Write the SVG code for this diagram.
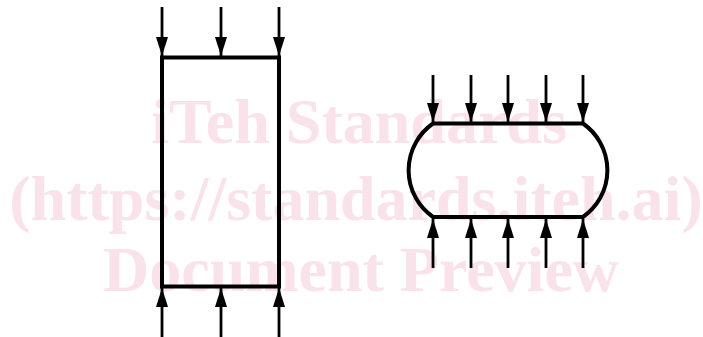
<svg xmlns="http://www.w3.org/2000/svg" width="703" height="337" viewBox="0 0 703 337">
<style>
.wm{font-family:"Liberation Serif",serif;font-weight:bold;font-size:64px;fill:#f9e2e9;text-anchor:middle}
.shape{fill:none;stroke:#000;stroke-width:4}
.arr{stroke:#000;stroke-width:2.8;fill:none}
</style>
<defs>
<marker id="head" viewBox="0 0 19 12" refX="19" refY="6" markerWidth="19" markerHeight="12" markerUnits="userSpaceOnUse" orient="auto">
<path d="M0,0 L19,6 L0,12 Z" fill="#000"/>
</marker>
</defs>
<rect width="703" height="337" fill="#fff"/>
<g id="watermark">
<text class="wm" x="359" y="143">iTeh Standards</text>
<text class="wm" x="356" y="220">(https://standards.iteh.ai)</text>
<text class="wm" x="361" y="291">Document Preview</text>
</g>
<g id="column">
<rect class="shape" x="162" y="57.5" width="117" height="229"/>
</g>
<g id="barrel">
<path class="shape" d="M433,123.5 L583,123.5 A57,57 0 0 1 583,217 L433,217 A57,57 0 0 1 433,123.5 Z"/>
</g>
<g id="connectors">
<line class="arr" x1="162" y1="7" x2="162" y2="56" marker-end="url(#head)"/>
<line class="arr" x1="221" y1="7" x2="221" y2="56" marker-end="url(#head)"/>
<line class="arr" x1="279" y1="7" x2="279" y2="56" marker-end="url(#head)"/>
<line class="arr" x1="162" y1="337" x2="162" y2="288" marker-end="url(#head)"/>
<line class="arr" x1="221" y1="337" x2="221" y2="288" marker-end="url(#head)"/>
<line class="arr" x1="279" y1="337" x2="279" y2="288" marker-end="url(#head)"/>
<line class="arr" x1="433" y1="75" x2="433" y2="122" marker-end="url(#head)"/>
<line class="arr" x1="471" y1="75" x2="471" y2="122" marker-end="url(#head)"/>
<line class="arr" x1="508" y1="75" x2="508" y2="122" marker-end="url(#head)"/>
<line class="arr" x1="546" y1="75" x2="546" y2="122" marker-end="url(#head)"/>
<line class="arr" x1="583" y1="75" x2="583" y2="122" marker-end="url(#head)"/>
<line class="arr" x1="433" y1="268" x2="433" y2="219" marker-end="url(#head)"/>
<line class="arr" x1="471" y1="268" x2="471" y2="219" marker-end="url(#head)"/>
<line class="arr" x1="508" y1="268" x2="508" y2="219" marker-end="url(#head)"/>
<line class="arr" x1="546" y1="268" x2="546" y2="219" marker-end="url(#head)"/>
<line class="arr" x1="583" y1="268" x2="583" y2="219" marker-end="url(#head)"/>
</g>
</svg>
